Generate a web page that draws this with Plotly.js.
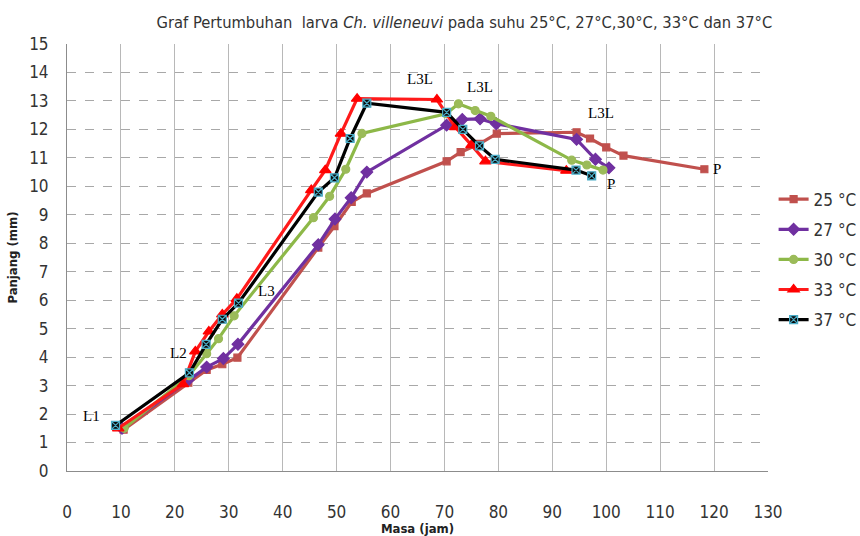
<!DOCTYPE html>
<html>
<head>
<meta charset="utf-8">
<script src="https://cdn.plot.ly/plotly-3.0.1.min.js"></script>
<style>html,body{margin:0;padding:0;background:#fff;}#chart{width:860px;height:536px;}</style>
</head>
<body>
<div id="chart"></div>
<script>
const seriesNames = ["25 °C", "27 °C", "30 °C", "33 °C", "37 °C"];

const x25 = [10.5, 22.5, 25.9, 28.8, 31.6, 46.6, 49.6, 52.8, 55.6, 70.4, 73.0, 76.5, 79.7, 94.5, 97.0, 100.0, 103.2, 118.2];
const y25 = [1.45, 3.1, 3.55, 3.75, 3.98, 7.85, 8.6, 9.45, 9.75, 10.88, 11.2, 11.49, 11.85, 11.9, 11.68, 11.37, 11.08, 10.6];

const x27 = [10.2, 22.5, 25.9, 29.0, 31.7, 46.6, 49.7, 52.7, 55.6, 70.4, 73.3, 76.6, 79.6, 94.5, 98.0, 100.5];
const y27 = [1.5, 3.2, 3.65, 3.95, 4.45, 7.95, 8.85, 9.6, 10.5, 12.15, 12.35, 12.37, 12.2, 11.65, 10.95, 10.65];

const x30 = [10.6, 22.6, 25.9, 28.1, 31.0, 45.7, 48.7, 51.7, 54.7, 70.3, 72.6, 75.7, 78.6, 93.6, 96.4, 99.4];
const y30 = [1.5, 3.35, 4.12, 4.65, 5.45, 8.9, 9.65, 10.6, 11.86, 12.55, 12.9, 12.66, 12.46, 10.92, 10.75, 10.57];

const x33 = [9.5, 21.5, 23.8, 26.3, 28.8, 31.5, 45.3, 47.9, 50.8, 53.8, 68.6, 72.0, 75.0, 77.6, 92.6];
const y33 = [1.5, 3.05, 4.2, 4.9, 5.5, 6.05, 9.87, 10.57, 11.85, 13.08, 13.05, 12.08, 11.45, 10.88, 10.55];

const x37 = [9.0, 22.7, 25.8, 28.8, 31.8, 46.6, 49.6, 52.5, 55.6, 70.4, 73.4, 76.5, 79.4, 94.4, 97.3];
const y37 = [1.6, 3.45, 4.45, 5.33, 5.9, 9.8, 10.3, 11.68, 12.92, 12.6, 12.0, 11.42, 10.95, 10.57, 10.37];

const stageLabels = ["L1", "L2", "L3", "L3L", "L3L", "L3L", "P", "P"];
const stageX = [4.6, 20.7, 37.0, 65.5, 76.6, 99.1, 120.6, 100.8];
const stageY = [1.93, 4.15, 6.32, 13.77, 13.49, 12.57, 10.6, 10.08];

const xTicks = [0,10,20,30,40,50,60,70,80,90,100,110,120,130];
const yTicks = [0,1,2,3,4,5,6,7,8,9,10,11,12,13,14,15];

const narrow = "DejaVu Sans Condensed, Liberation Sans Narrow, Roboto, sans-serif";
const serif = "Liberation Serif, Times New Roman, serif";

function tr(x, y, name, color, symbol, mcolor, mline, size, grp) {
  return {
    x: x, y: y, name: name, type: "scatter", mode: "lines+markers",
    legendgroup: grp,
    line: {color: color, width: 3.2},
    marker: {symbol: symbol, size: size, color: mcolor, line: {color: mline, width: 1.2}}
  };
}

const data = [
  tr(x25, y25, seriesNames[0], "#C0504D", "square", "#C0504D", "#C0504D", 7, "a"),
  tr(x27, y27, seriesNames[1], "#7030A0", "diamond", "#7030A0", "#7030A0", 9, "b"),
  tr(x30, y30, seriesNames[2], "#8DB848", "circle", "#9BBB59", "#9BBB59", 8, "c"),
  tr(x33, y33, seriesNames[3], "#FF1A1A", "triangle-up", "#FF0000", "#FF0000", 10, "d"),
  tr(x37, y37, seriesNames[4], "#000000", "square-x", "#0A0A0A", "#4BACC6", 8, "e")
];

const annotations = stageLabels.map((t, i) => ({
  x: stageX[i], y: stageY[i], xref: "x", yref: "y", text: t, showarrow: false,
  font: {family: serif, size: 15, color: "#000"}
}));

const layout = {
  width: 860, height: 536,
  margin: {l: 67, r: 92, t: 44, b: 65, autoexpand: false},
  paper_bgcolor: "#fff", plot_bgcolor: "#fff",
  font: {family: narrow, color: "#222"},
  title: {
    text: "Graf Pertumbuhan  larva <i>Ch. villeneuvi</i> pada suhu 25°C, 27°C,30°C, 33°C dan 37°C",
    x: 0.54, xref: "container", xanchor: "center", y: 0.958, yref: "container", yanchor: "middle",
    font: {family: narrow, size: 16.4, color: "#333"}
  },
  xaxis: {
    range: [0, 130], tickvals: xTicks, ticktext: xTicks.map(String),
    showgrid: true, gridcolor: "#B8B8B8", gridwidth: 1,
    showline: true, linecolor: "#8C8C8C", linewidth: 1, mirror: false,
    zeroline: false, ticks: "", ticklabelstandoff: 26,
    tickfont: {family: narrow, size: 17, color: "#333"},
    title: {text: "<b>Masa (jam)</b>", standoff: 4, font: {family: narrow, size: 13, color: "#222"}}
  },
  yaxis: {
    range: [0, 15], tickvals: yTicks, ticktext: yTicks.map(String),
    showgrid: true, gridcolor: "#A8A8A8", gridwidth: 1, griddash: "dash",
    showline: true, linecolor: "#8C8C8C", linewidth: 1,
    zeroline: false, ticks: "", ticklabelstandoff: 14,
    tickfont: {family: narrow, size: 17, color: "#333"},
    title: {text: "<b>Panjang (mm)</b>", standoff: 8, font: {family: narrow, size: 13, color: "#222"}}
  },
  legend: {
    x: 1.008, xanchor: "left", y: 0.495, yanchor: "middle",
    font: {family: narrow, size: 17, color: "#333"},
    tracegroupgap: 5, itemwidth: 30, bgcolor: "rgba(0,0,0,0)"
  },
  annotations: annotations,
  showlegend: true
};

Plotly.newPlot("chart", data, layout, {displayModeBar: false, staticPlot: true});
</script>
</body>
</html>
